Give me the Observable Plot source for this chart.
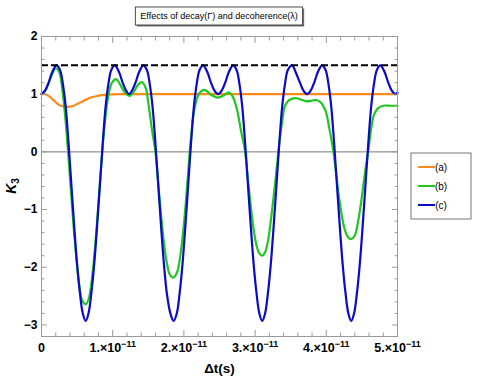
<!DOCTYPE html>
<html><head><meta charset="utf-8">
<script src="https://cdn.jsdelivr.net/npm/d3@7"></script>
<script src="https://cdn.jsdelivr.net/npm/@observablehq/plot@0.6"></script>
<style>
body{margin:0;background:#fff;}
#chart{position:relative;width:491px;height:382px;}
</style></head><body><div id="chart"></div>
<script>
// ---- data (time in units of 1e-11 s) ----
const seriesNames = ["(a)", "(b)", "(c)"];
const seriesColors = ["#ff8a1a", "#1ec81e", "#0a0ac8"];
const titleText = "Effects of decay(Γ) and decoherence(λ)";
const xLabelText = "Δt(s)";
const upperBound = 1.5;

const tA = [0,0.05,0.10,0.15,0.20,0.25,0.30,0.35,0.40,0.45,0.50,0.55,0.60,0.65,0.70,0.75,0.80,0.85,0.92,1.00,1.10,1.25,1.5,2,3,4,5];
const kA = [1.00,1.00,0.97,0.92,0.86,0.81,0.79,0.78,0.785,0.80,0.83,0.86,0.89,0.92,0.945,0.96,0.975,0.985,0.993,0.998,1.0,1.0,1.0,1.0,1.0,1.0,1.0];

const tB = [0,0.05,0.10,0.15,0.20,0.25,0.29,0.33,0.37,0.41,0.45,0.49,0.53,0.57,0.62,0.66,0.70,0.74,0.78,0.82,0.86,0.90,0.94,0.99,1.05,1.10,1.16,1.24,1.30,1.36,1.41,
  1.46,1.50,1.55,1.60,1.64,1.68,1.72,1.76,1.80,1.85,1.90,1.94,1.98,2.02,2.06,2.10,2.14,2.19,2.24,2.30,
  2.38,2.48,2.56,2.63,2.69,2.75,2.80,2.86,2.90,2.94,2.98,3.02,3.06,3.10,3.14,3.18,3.22,3.26,3.30,3.34,3.38,3.42,3.48,3.58,3.66,3.73,3.80,3.86,3.92,3.99,
  4.04,4.10,4.14,4.18,4.22,4.26,4.30,4.35,4.40,4.44,4.48,4.52,4.55,4.59,4.63,4.67,4.72,4.80,4.90,5.00];
const kB = [1.00,1.06,1.19,1.35,1.45,1.38,1.10,0.65,0.05,-0.62,-1.28,-1.85,-2.30,-2.57,-2.64,-2.56,-2.28,-1.82,-1.22,-0.55,0.10,0.62,0.98,1.20,1.26,1.18,1.05,0.97,1.05,1.17,1.21,
  1.12,0.85,0.40,0.00,-0.55,-1.10,-1.58,-1.92,-2.12,-2.18,-2.10,-1.88,-1.50,-0.98,-0.35,0.25,0.68,0.95,1.05,1.07,
  0.99,0.94,0.98,1.03,0.95,0.71,0.38,0.00,-0.48,-0.95,-1.35,-1.62,-1.76,-1.80,-1.74,-1.55,-1.20,-0.78,-0.32,0.15,0.52,0.80,0.90,0.93,0.90,0.875,0.89,0.90,0.86,0.71,
  0.42,0.00,-0.40,-0.80,-1.12,-1.35,-1.47,-1.51,-1.45,-1.25,-0.95,-0.58,-0.30,0.02,0.40,0.64,0.75,0.80,0.80,0.80];

const tC = [0,0.05,0.10,0.15,0.21,0.26,0.30,0.34,0.38,0.42,0.46,0.50,0.54,0.58,0.62,0.66,0.70,0.74,0.78,0.82,0.86,0.90,0.94,0.98,1.03,1.09,1.14,1.19,1.23,
  1.27,1.32,1.37,1.43,1.48,1.52,1.56,1.60,1.64,1.68,1.72,1.76,1.81,1.855,1.90,1.94,1.98,2.02,2.06,2.10,2.14,2.18,2.22,2.27,2.33,2.38,2.43,2.48,
  2.53,2.58,2.63,2.69,2.74,2.78,2.82,2.86,2.90,2.94,2.98,3.02,3.06,3.10,3.14,3.18,3.22,3.26,3.30,3.34,3.38,3.42,3.46,3.52,3.57,3.63,3.68,3.73,
  3.78,3.83,3.88,3.94,3.99,4.03,4.07,4.11,4.15,4.19,4.23,4.27,4.31,4.35,4.39,4.43,4.47,4.51,4.55,4.59,4.63,4.67,4.71,4.76,4.82,4.87,4.92,4.97,5.00];
const kC = [1.00,1.06,1.20,1.38,1.50,1.42,1.18,0.78,0.15,-0.58,-1.30,-1.95,-2.45,-2.80,-2.93,-2.80,-2.45,-1.95,-1.30,-0.58,0.15,0.78,1.18,1.42,1.50,1.38,1.20,1.06,1.00,
  1.06,1.20,1.38,1.50,1.42,1.18,0.78,0.15,-0.58,-1.30,-1.95,-2.45,-2.80,-2.93,-2.80,-2.45,-1.95,-1.30,-0.58,0.15,0.78,1.18,1.42,1.50,1.38,1.20,1.06,1.00,
  1.06,1.20,1.38,1.50,1.42,1.18,0.78,0.15,-0.58,-1.30,-1.95,-2.45,-2.80,-2.93,-2.80,-2.45,-1.95,-1.30,-0.58,0.15,0.78,1.18,1.42,1.50,1.38,1.20,1.06,1.00,
  1.06,1.20,1.38,1.50,1.42,1.18,0.78,0.15,-0.58,-1.30,-1.95,-2.45,-2.80,-2.93,-2.80,-2.45,-1.95,-1.30,-0.58,0.15,0.78,1.18,1.42,1.50,1.38,1.20,1.06,1.00,1.03];

const xTickValues = [0, 1, 2, 3, 4, 5];
const xTickMantissa = ["0", "1.×10", "2.×10", "3.×10", "4.×10", "5.×10"];
const xTickExponent = ["", "−11", "−11", "−11", "−11", "−11"];
const yTickValues = [-3, -2, -1, 0, 1, 2];
const yTickLabels = ["−3", "−2", "−1", "0", "1", "2"];

// ---- build table ----
const SEC = 1e-11;
const rows = [];
[[tA, kA], [tB, kB], [tC, kC]].forEach(([ts, ks], s) => {
  ts.forEach((t, i) => rows.push({series: seriesNames[s], t: t * SEC, k: ks[i]}));
});

const xMajor = xTickValues.map(v => v * SEC);
const xMinor = d3.range(0, 5.0001, 0.2).filter(v => Math.abs(v - Math.round(v)) > 1e-6).map(v => v * SEC);
const yMinor = d3.range(-3.2, 2.0001, 0.2).filter(v => Math.abs(v - Math.round(v)) > 1e-6);

const W = 491, H = 382, mL = 41, mR = 94, mT = 36, mB = 46;
const tickCol = "#9a9a9a";
const fontFam = "'Liberation Sans', Arial, sans-serif";

const chart = Plot.plot({
  width: W, height: H,
  marginLeft: mL, marginRight: mR, marginTop: mT, marginBottom: mB,
  style: {fontFamily: fontFam, fontSize: "12px", fontWeight: "bold", color: "black", background: "white"},
  x: {domain: [0, 5 * SEC]},
  y: {domain: [-3.2, 2]},
  color: {domain: seriesNames, range: seriesColors},
  marks: [
    Plot.ruleY([0], {stroke: "#777", strokeWidth: 1}),
    Plot.line(rows, {x: "t", y: "k", z: "series", stroke: "series", strokeWidth: 2.2, curve: "catmull-rom"}),
    Plot.ruleY([upperBound], {stroke: "black", strokeWidth: 2, strokeDasharray: "7,3"}),
    Plot.frame({stroke: tickCol, strokeWidth: 1}),
    // inward ticks (major)
    Plot.axisX({anchor: "bottom", ticks: xMajor, tickSize: 6, dy: -6, text: null, label: null, stroke: tickCol}),
    Plot.axisX({anchor: "top", ticks: xMajor, tickSize: 6, dy: 6, text: null, label: null, stroke: tickCol}),
    Plot.axisY({anchor: "left", ticks: yTickValues, tickSize: 6, dx: 6, text: null, label: null, stroke: tickCol}),
    Plot.axisY({anchor: "right", ticks: yTickValues, tickSize: 6, dx: -6, text: null, label: null, stroke: tickCol}),
    // inward ticks (minor)
    Plot.axisX({anchor: "bottom", ticks: xMinor, tickSize: 3.5, dy: -3.5, text: null, label: null, stroke: tickCol}),
    Plot.axisX({anchor: "top", ticks: xMinor, tickSize: 3.5, dy: 3.5, text: null, label: null, stroke: tickCol}),
    Plot.axisY({anchor: "left", ticks: yMinor, tickSize: 3.5, dx: 3.5, text: null, label: null, stroke: tickCol}),
    Plot.axisY({anchor: "right", ticks: yMinor, tickSize: 3.5, dx: -3.5, text: null, label: null, stroke: tickCol}),
    // tick labels
    Plot.axisX({anchor: "bottom", ticks: xMajor, tickSize: 0, tickPadding: 7, label: null,
      tickFormat: d => { const i = Math.round(d / SEC); return xTickMantissa[i] + "|" + xTickExponent[i]; },
      fontSize: 12.5, fontWeight: "bold"}),
    Plot.axisY({anchor: "left", ticks: yTickValues, tickSize: 0, tickPadding: 4, label: null,
      tickFormat: d => yTickLabels[yTickValues.indexOf(d)], fontSize: 12, fontWeight: "bold"}),
    // x axis title
    Plot.text([xLabelText], {frameAnchor: "bottom", dy: 36, fontSize: 13.5, fontWeight: "bold"})
  ]
});

document.getElementById("chart").appendChild(chart);
const svg = d3.select(chart);

// superscript exponents on x tick labels
svg.selectAll("text").each(function() {
  const el = d3.select(this);
  const s = this.textContent;
  if (s.indexOf("|") < 0) return;
  const [m, e] = s.split("|");
  el.text(m);
  if (e) el.append("tspan").attr("font-size", 9).attr("dy", -5).text(e);
});

// y-axis title K_3
const yl = svg.append("text")
  .attr("transform", `translate(16,${(mT + H - mB) / 2}) rotate(-90)`)
  .attr("text-anchor", "middle")
  .attr("font-family", fontFam).attr("font-size", 14).attr("font-weight", "bold").attr("fill", "black");
yl.append("tspan").attr("font-style", "italic").text("K");
yl.append("tspan").attr("font-size", 10).attr("dy", 3).text("3");

// title box
const cx = (mL + (W - mR)) / 2;
const tg = svg.append("g");
const tt = tg.append("text").attr("x", cx).attr("y", 19).attr("text-anchor", "middle")
  .attr("font-family", fontFam).attr("font-size", 9).attr("font-weight", "normal").attr("fill", "black")
  .text(titleText);
const bb = tt.node().getBBox();
tg.insert("rect", "text").attr("x", bb.x - 5 + 1.5).attr("y", 7 + 1.5).attr("width", bb.width + 10).attr("height", 18).attr("fill", "#777");
tg.insert("rect", "text").attr("x", bb.x - 5).attr("y", 7).attr("width", bb.width + 10).attr("height", 18).attr("fill", "white").attr("stroke", "#222").attr("stroke-width", 0.8);

// legend
const lx = 411, ly = 153, lw = 60, lh = 66;
const lg = svg.append("g");
lg.append("rect").attr("x", lx).attr("y", ly).attr("width", lw).attr("height", lh).attr("fill", "white").attr("stroke", "#555").attr("stroke-width", 0.8);
seriesNames.forEach((name, i) => {
  const yy = ly + 14 + i * 19;
  lg.append("line").attr("x1", lx + 7).attr("x2", lx + 24).attr("y1", yy).attr("y2", yy)
    .attr("stroke", seriesColors[i]).attr("stroke-width", 2);
  lg.append("text").attr("x", lx + 30).attr("y", yy + 3.5).attr("font-family", fontFam)
    .attr("font-size", 10).attr("font-weight", "normal").attr("fill", "black").text(name);
});
</script>
</body></html>
